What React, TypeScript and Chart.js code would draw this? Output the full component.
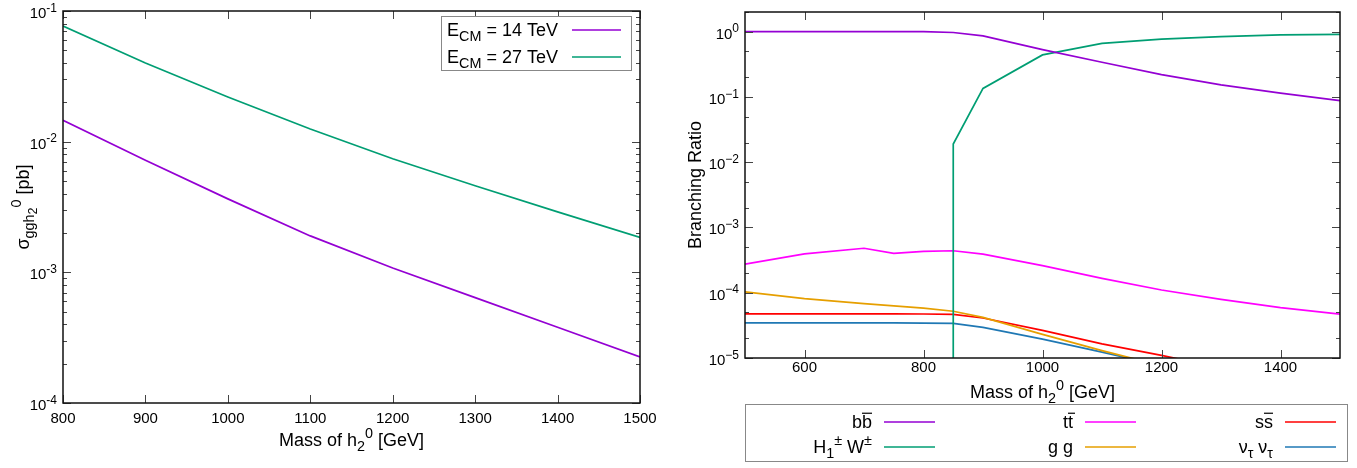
import React, { useEffect, useRef } from "react";
import { Chart, registerables } from "chart.js";

Chart.register(...registerables);

const FONT = '"Liberation Sans", Arial, Helvetica, sans-serif';

// ---------- Left panel: cross section ----------
const leftMass = [800, 900, 1000, 1100, 1200, 1300, 1400, 1500];
const sigma14TeV = [0.0146, 0.0072, 0.00365, 0.0019, 0.00108, 0.00064, 0.00038, 0.000225];
const sigma27TeV = [0.0767, 0.04, 0.022, 0.0125, 0.0074, 0.0046, 0.0029, 0.00185];
const leftXTicks = [800, 900, 1000, 1100, 1200, 1300, 1400, 1500];
const leftXTickLabels = ["800", "900", "1000", "1100", "1200", "1300", "1400", "1500"];
const leftYTicks = [1e-4, 1e-3, 1e-2, 1e-1];
const leftYExps = ["-4", "-3", "-2", "-1"];
const leftYMinorMult = [2, 3, 4, 5, 6, 7, 8, 9];

// ---------- Right panel: branching ratios ----------
const rightMass = [500, 600, 700, 750, 800, 850, 900, 1000, 1100, 1200, 1300, 1400, 1500];
const brBB = [1.0, 1.0, 1.0, 1.0, 1.0, 0.97, 0.86, 0.53, 0.34, 0.22, 0.153, 0.114, 0.088];
const brTT = [2.75e-4, 3.95e-4, 4.8e-4, 4.0e-4, 4.3e-4, 4.4e-4, 3.9e-4, 2.6e-4, 1.66e-4, 1.1e-4, 7.9e-5, 5.9e-5, 4.7e-5];
const brSS = [4.75e-5, 4.75e-5, 4.75e-5, 4.75e-5, 4.72e-5, 4.65e-5, 4.1e-5, 2.65e-5, 1.65e-5, 1.1e-5, 7.0e-6, 4.5e-6, 3.0e-6];
const brGG = [1.03e-4, 8.1e-5, 6.8e-5, 6.3e-5, 5.8e-5, 5.2e-5, 4.2e-5, 2.3e-5, 1.3e-5, 7.6e-6, 4.5e-6, 2.7e-6, 1.6e-6];
const brNuNu = [3.45e-5, 3.45e-5, 3.45e-5, 3.45e-5, 3.43e-5, 3.4e-5, 2.95e-5, 1.95e-5, 1.23e-5, 7.6e-6, 4.7e-6, 3.0e-6, 1.9e-6];
const hwMass = [850, 850, 900, 1000, 1100, 1200, 1300, 1400, 1500];
const brHW = [1e-9, 0.019, 0.135, 0.44, 0.66, 0.77, 0.84, 0.89, 0.91];
const rightXTicks = [600, 800, 1000, 1200, 1400];
const rightXTickLabels = ["600", "800", "1000", "1200", "1400"];
const rightYTicks = [1e-5, 1e-4, 1e-3, 1e-2, 1e-1, 1];
const rightYExps = ["\u22125", "\u22124", "\u22123", "\u22122", "\u22121", "0"];
const rightYMinorMult = [2, 5];

const C_PURPLE = "#9400d3";
const C_GREEN = "#009e73";
const C_MAGENTA = "#ff00ff";
const C_RED = "#ff0000";
const C_ORANGE = "#e69f00";
const C_BLUE = "#1f78b4";

// rich text: kind 0 normal, 1 sub, 2 sup, 3 subsub, 4 overlined normal
type Seg = [string, number];
const KSCALE = [1, 0.8, 0.8, 0.7, 1];
function segFont(size: number, k: number) {
  return `${(size * KSCALE[k]).toFixed(2)}px ${FONT}`;
}
function segDy(size: number, k: number) {
  if (k === 1) return size * 0.25;
  if (k === 2) return -size * 0.42;
  if (k === 3) return size * 0.45;
  return 0;
}
function richWidth(ctx: CanvasRenderingContext2D, segs: Seg[], size: number) {
  let w = 0;
  for (const [t, k] of segs) {
    ctx.font = segFont(size, k);
    w += ctx.measureText(t).width;
  }
  return w;
}
function drawRich(
  ctx: CanvasRenderingContext2D,
  segs: Seg[],
  x: number,
  y: number,
  size: number,
  align: "left" | "right" | "center",
  color = "#000"
) {
  const w = richWidth(ctx, segs, size);
  let cx = align === "left" ? x : align === "right" ? x - w : x - w / 2;
  ctx.textAlign = "left";
  ctx.textBaseline = "alphabetic";
  ctx.fillStyle = color;
  ctx.strokeStyle = color;
  for (const [t, k] of segs) {
    ctx.font = segFont(size, k);
    ctx.fillText(t, cx, y + segDy(size, k));
    const tw = ctx.measureText(t).width;
    if (k === 4) {
      ctx.beginPath();
      ctx.lineWidth = 1.2;
      ctx.moveTo(cx, y - size * 0.82);
      ctx.lineTo(cx + Math.max(tw, 7), y - size * 0.82);
      ctx.stroke();
    }
    cx += tw;
  }
}

const massTitle: Seg[] = [["Mass of h", 0], ["2", 1], ["0", 2], [" [GeV]", 0]];
const sigmaTitle: Seg[] = [["\u03c3", 0], ["ggh", 1], ["2", 3], ["0", 2], [" [pb]", 0]];
const leftLegend: Seg[][] = [
  [["E", 0], ["CM", 1], [" = 14 TeV", 0]],
  [["E", 0], ["CM", 1], [" = 27 TeV", 0]],
];
const rightLegend: Seg[][] = [
  [["b", 0], ["b", 4]],
  [["H", 0], ["1", 1], ["\u00b1", 2], [" W", 0], ["\u00b1", 2]],
  [["t", 0], ["t", 4]],
  [["g g", 0]],
  [["s", 0], ["s", 4]],
  [["\u03bd", 0], ["\u03c4", 1], [" \u03bd", 0], ["\u03c4", 1]],
];

interface AxesOpts {
  xTicks: number[];
  xLabels: string[];
  yTicks: number[];
  yExps: string[];
  yMinor: number[];
  xLabelY: number;
  extra: (ctx: CanvasRenderingContext2D, chart: any) => void;
}

function gnuplotAxes(o: AxesOpts) {
  return {
    id: "gnuplotAxes",
    afterDraw(chart: any) {
      const { ctx, chartArea: a } = chart;
      const xs = chart.scales.x;
      const ys = chart.scales.y;
      ctx.save();
      ctx.strokeStyle = "#444";
      ctx.lineWidth = 1;
      ctx.beginPath();
      for (const v of o.xTicks) {
        const px = Math.round(xs.getPixelForValue(v)) + 0.5;
        ctx.moveTo(px, a.bottom);
        ctx.lineTo(px, a.bottom - 8);
        ctx.moveTo(px, a.top);
        ctx.lineTo(px, a.top + 8);
      }
      for (const v of o.yTicks) {
        const py = Math.round(ys.getPixelForValue(v)) + 0.5;
        ctx.moveTo(a.left, py);
        ctx.lineTo(a.left + 8, py);
        ctx.moveTo(a.right, py);
        ctx.lineTo(a.right - 8, py);
        for (const m of o.yMinor) {
          const val = v * m;
          if (val > ys.max) continue;
          const pm = Math.round(ys.getPixelForValue(val)) + 0.5;
          ctx.moveTo(a.left, pm);
          ctx.lineTo(a.left + 4, pm);
          ctx.moveTo(a.right, pm);
          ctx.lineTo(a.right - 4, pm);
        }
      }
      ctx.stroke();
      ctx.strokeStyle = "#111";
      ctx.lineWidth = 1.5;
      ctx.strokeRect(a.left, a.top, a.right - a.left, a.bottom - a.top);

      // tick labels
      ctx.fillStyle = "#000";
      ctx.font = `15px ${FONT}`;
      ctx.textAlign = "center";
      ctx.textBaseline = "middle";
      o.xTicks.forEach((v, i) => {
        ctx.fillText(o.xLabels[i], xs.getPixelForValue(v), o.xLabelY);
      });
      o.yTicks.forEach((v, i) => {
        const py = ys.getPixelForValue(v);
        drawRich(ctx, [["10", 0], [o.yExps[i], 2]], a.left - 6, py + 7, 15, "right");
      });
      o.extra(ctx, chart);
      ctx.restore();
    },
  };
}

export default function App() {
  const leftRef = useRef<HTMLCanvasElement>(null);
  const rightRef = useRef<HTMLCanvasElement>(null);

  useEffect(() => {
    const line = (label: string, xs: number[], ys: number[], color: string) => ({
      label,
      data: xs.map((x, i) => ({ x, y: ys[i] })),
      borderColor: color,
      backgroundColor: color,
      borderWidth: 1.7,
      pointRadius: 0,
      tension: 0,
      fill: false,
    });

    const left = new Chart(leftRef.current!, {
      type: "line",
      data: {
        datasets: [
          line("E_CM = 14 TeV", leftMass, sigma14TeV, C_PURPLE),
          line("E_CM = 27 TeV", leftMass, sigma27TeV, C_GREEN),
        ],
      },
      options: {
        responsive: false,
        animation: false,
        devicePixelRatio: 1,
        layout: { padding: { left: 63, right: 40, top: 11, bottom: 65 } },
        plugins: { legend: { display: false }, tooltip: { enabled: false } },
        scales: {
          x: { type: "linear", min: 800, max: 1500, display: false },
          y: { type: "logarithmic", min: 1e-4, max: 1e-1, display: false },
        },
      },
      plugins: [
        gnuplotAxes({
          xTicks: leftXTicks,
          xLabels: leftXTickLabels,
          yTicks: leftYTicks,
          yExps: leftYExps,
          yMinor: leftYMinorMult,
          xLabelY: 419,
          extra: (ctx, chart) => {
            const a = chart.chartArea;
            drawRich(ctx, massTitle, (a.left + a.right) / 2, 446, 18, "center");
            ctx.save();
            ctx.translate(29, (a.top + a.bottom) / 2);
            ctx.rotate(-Math.PI / 2);
            drawRich(ctx, sigmaTitle, 0, 0, 18, "center");
            ctx.restore();
            // legend box
            ctx.fillStyle = "#fff";
            ctx.fillRect(441, 16, 191, 55);
            ctx.strokeStyle = "#888";
            ctx.lineWidth = 1;
            ctx.strokeRect(441.5, 16.5, 190, 54);
            chart.data.datasets.forEach((ds: any, i: number) => {
              const cy = 30 + i * 27;
              drawRich(ctx, leftLegend[i], 447, cy + 6, 18, "left");
              ctx.strokeStyle = ds.borderColor;
              ctx.lineWidth = 1.7;
              ctx.beginPath();
              ctx.moveTo(572, cy);
              ctx.lineTo(621, cy);
              ctx.stroke();
            });
          },
        }),
      ],
    });

    const right = new Chart(rightRef.current!, {
      type: "line",
      data: {
        datasets: [
          line("bb", rightMass, brBB, C_PURPLE),
          line("H1W", hwMass, brHW, C_GREEN),
          line("tt", rightMass, brTT, C_MAGENTA),
          line("gg", rightMass, brGG, C_ORANGE),
          line("ss", rightMass, brSS, C_RED),
          line("nunu", rightMass, brNuNu, C_BLUE),
        ],
      },
      options: {
        responsive: false,
        animation: false,
        devicePixelRatio: 1,
        layout: { padding: { left: 65, right: 17, top: 12, bottom: 110 } },
        plugins: { legend: { display: false }, tooltip: { enabled: false } },
        scales: {
          x: { type: "linear", min: 500, max: 1500, display: false },
          y: { type: "logarithmic", min: 1e-5, max: 2, display: false },
        },
      },
      plugins: [
        gnuplotAxes({
          xTicks: rightXTicks,
          xLabels: rightXTickLabels,
          yTicks: rightYTicks,
          yExps: rightYExps,
          yMinor: rightYMinorMult,
          xLabelY: 368,
          extra: (ctx, chart) => {
            const a = chart.chartArea;
            drawRich(ctx, massTitle, (a.left + a.right) / 2, 398, 18, "center");
            ctx.save();
            ctx.translate(21, (a.top + a.bottom) / 2);
            ctx.rotate(-Math.PI / 2);
            drawRich(ctx, [["Branching Ratio", 0]], 0, 0, 18, "center");
            ctx.restore();
            // bottom legend box
            ctx.strokeStyle = "#888";
            ctx.lineWidth = 1;
            ctx.strokeRect(65.5, 404.5, 602, 57);
            const textRight = [192, 393, 593];
            const lineStart = [204, 405, 605];
            chart.data.datasets.forEach((ds: any, i: number) => {
              const col = Math.floor(i / 2);
              const row = i % 2;
              const cy = 422 + row * 25;
              drawRich(ctx, rightLegend[i], textRight[col], cy + 6, 18, "right");
              ctx.strokeStyle = ds.borderColor;
              ctx.lineWidth = 1.7;
              ctx.beginPath();
              ctx.moveTo(lineStart[col], cy);
              ctx.lineTo(lineStart[col] + 51, cy);
              ctx.stroke();
            });
          },
        }),
      ],
    });

    return () => {
      left.destroy();
      right.destroy();
    };
  }, []);

  return (
    <div style={{ position: "fixed", left: 0, top: 0, width: 1357, height: 468, background: "#fff" }}>
      <canvas
        ref={leftRef}
        width={680}
        height={468}
        style={{ position: "absolute", left: 0, top: 0, width: 680, height: 468 }}
      />
      <canvas
        ref={rightRef}
        width={677}
        height={468}
        style={{ position: "absolute", left: 680, top: 0, width: 677, height: 468 }}
      />
    </div>
  );
}
